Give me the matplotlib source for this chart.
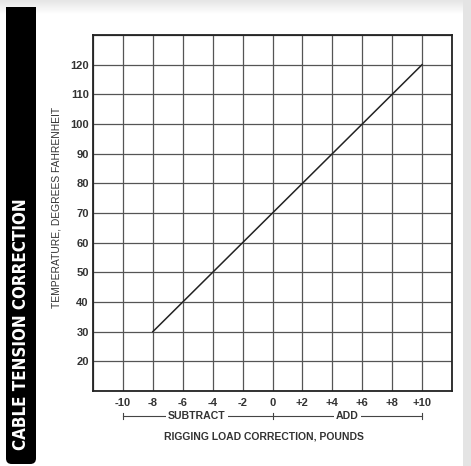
import matplotlib
matplotlib.use("Agg")
import matplotlib.pyplot as plt
import numpy as np
from matplotlib.patches import Rectangle, FancyBboxPatch
import matplotlib.transforms as mtransforms

# Data
correction_lb = [-8, -6, -4, -2, 0, 2, 4, 6, 8, 10]
temperature_f = [30, 40, 50, 60, 70, 80, 90, 100, 110, 120]
x_ticks = [-10, -8, -6, -4, -2, 0, 2, 4, 6, 8, 10]
x_tick_labels = ["-10", "-8", "-6", "-4", "-2", "0", "+2", "+4", "+6", "+8", "+10"]
y_ticks = [20, 30, 40, 50, 60, 70, 80, 90, 100, 110, 120]
y_tick_labels = [str(v) for v in y_ticks]

W, H = 471, 466
fig = plt.figure(figsize=(W / 100, H / 100), dpi=100)
fig.patch.set_facecolor("white")


def fx(px):
    return px / W


def fy(py):
    return 1 - py / H


# top gray gradient
grad_ax = fig.add_axes([0, fy(14), 1, 14 / H])
t = np.linspace(0, 1, 40)
g = 0.90 + 0.10 * t
img = np.repeat(np.stack([g, g, g], axis=1)[:, None, :], 2, axis=1)
grad_ax.imshow(img, aspect="auto", extent=[0, 1, 0, 1], origin="upper")
grad_ax.axis("off")

# right gray strip
fig.patches.append(Rectangle((fx(463), 0), fx(8), 1, transform=fig.transFigure,
                             facecolor="#e4e4e4", edgecolor="none", zorder=5))

# black bar
fig.patches.append(FancyBboxPatch((fx(6), fy(464)), fx(30), (464 - 7) / H,
                                  boxstyle="round,pad=0,rounding_size=0.012",
                                  transform=fig.transFigure, facecolor="black",
                                  edgecolor="none", zorder=6))
fig.patches.append(Rectangle((fx(6), fy(30)), fx(30), 23 / H, transform=fig.transFigure,
                             facecolor="black", edgecolor="none", zorder=6))
fig.text(fx(21.5), fy(324), "CABLE TENSION CORRECTION", rotation=90, color="white",
         ha="center", va="center", fontsize=12.2, fontweight="bold",
         family="DejaVu Sans", fontstretch="condensed", zorder=7)

ax = fig.add_axes([fx(93), fy(391), fx(452 - 93), (391 - 35) / H])
ax.set_xlim(-12, 12)
ax.set_ylim(10, 130)
ax.set_xticks(x_ticks)
ax.set_xticklabels(x_tick_labels)
ax.set_yticks(y_ticks)
ax.set_yticklabels(y_tick_labels)
ax.set_xticks([-12, 12], minor=True)
ax.set_yticks([10, 130], minor=True)
ax.grid(True, which="both", color="#555555", linewidth=0.9)
ax.set_axisbelow(True)
ax.tick_params(length=0, which="both")
ax.tick_params(axis="x", pad=5)
ax.tick_params(axis="y", pad=3)
for lab in ax.get_xticklabels() + ax.get_yticklabels():
    lab.set_fontsize(8)
    lab.set_fontweight("bold")
    lab.set_color("#333333")
    lab.set_family("Liberation Sans")
for s in ax.spines.values():
    s.set_linewidth(1.3)
    s.set_color("#222222")

ax.plot(correction_lb, temperature_f, color="#222222", linewidth=1.1)

trans = mtransforms.blended_transform_factory(ax.transData, ax.transAxes)
yb = -0.0702
ax.plot([-10, 10], [yb, yb], color="#444444", linewidth=0.8, transform=trans, clip_on=False)
for xv in [-10, 0, 10]:
    ax.plot([xv, xv], [yb - 0.008, yb + 0.008], color="#444444", linewidth=0.8,
            transform=trans, clip_on=False)
ax.text(-5.05, yb, "SUBTRACT", transform=trans, ha="center", va="center", fontsize=7.6,
        fontweight="bold", color="#333333", family="Liberation Sans",
        bbox=dict(facecolor="white", edgecolor="none", pad=1.5))
ax.text(5.0, yb, "ADD", transform=trans, ha="center", va="center", fontsize=7.6,
        fontweight="bold", color="#333333", family="Liberation Sans",
        bbox=dict(facecolor="white", edgecolor="none", pad=1.5))

ax.text(-0.6, -0.129, "RIGGING LOAD CORRECTION, POUNDS", transform=trans, ha="center",
        va="center", fontsize=7.5, fontweight="bold", color="#333333", family="Liberation Sans")

fig.text(fx(57), fy(207), "TEMPERATURE, DEGREES FAHRENHEIT", rotation=90, ha="center",
         va="center", fontsize=7.4, color="#333333", family="Liberation Sans")

fig.savefig("out.png", dpi=100, facecolor="white")
